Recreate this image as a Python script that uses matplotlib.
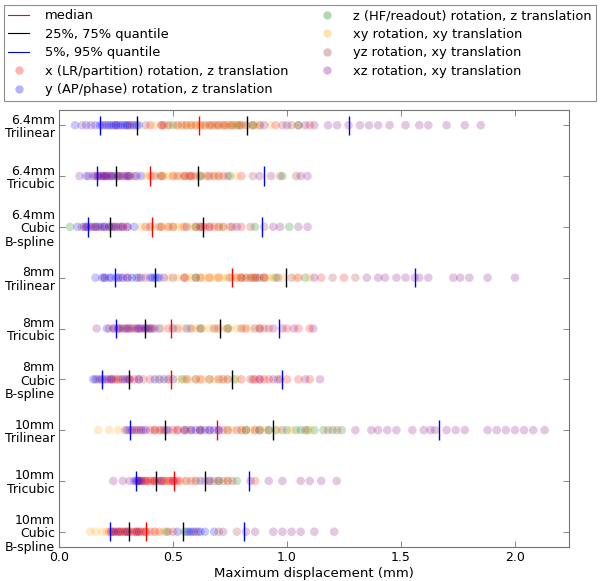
import matplotlib
matplotlib.use("Agg")
import matplotlib.pyplot as plt
from matplotlib.lines import Line2D

rows = ["6.4mm\nTrilinear", "6.4mm\nTricubic", "6.4mm\nCubic\nB-spline",
        "8mm\nTrilinear", "8mm\nTricubic", "8mm\nCubic\nB-spline",
        "10mm\nTrilinear", "10mm\nTricubic", "10mm\nCubic\nB-spline"]

group_labels = ["x (LR/partition) rotation, z translation",
                "y (AP/phase) rotation, z translation",
                "z (HF/readout) rotation, z translation",
                "xy rotation, xy translation",
                "yz rotation, xy translation",
                "xz rotation, xy translation"]
group_colors = ["red", "blue", "green", "orange", "brown", "purple"]

# displacement values (mm) per row, one list per group (x, y, z, xy, yz, xz)
disp_64_trilinear = [
    [0.30, 0.40, 0.45, 0.46, 0.52, 0.56, 0.60, 0.62, 0.66, 0.69, 0.72, 0.75, 0.80,
     0.95, 1.05, 1.10],
    [0.07, 0.12, 0.16, 0.18, 0.19, 0.21, 0.22, 0.23, 0.24, 0.25, 0.26, 0.27, 0.28,
     0.29, 0.30, 0.31, 0.33, 0.34, 0.35],
    [0.50, 0.78, 0.85, 1.05],
    [0.42, 0.48, 0.52, 0.55, 0.56, 0.58, 0.60, 0.62, 0.64, 0.66, 0.68, 0.70, 0.72,
     0.74, 0.76, 0.77, 0.79, 0.80, 0.83, 0.86, 0.88, 0.93],
    [0.38, 0.45, 0.48, 0.54, 0.58, 0.64, 0.67, 0.70, 0.73, 0.76, 0.79, 0.82, 0.85,
     0.88, 0.98, 1.02],
    [0.10, 0.14, 0.20, 0.25, 0.32, 0.90, 1.00, 1.08, 1.12, 1.18, 1.22, 1.27,
     1.32, 1.36, 1.40, 1.45, 1.52, 1.58, 1.62, 1.70, 1.78, 1.85],
]
disp_64_tricubic = [
    [0.16, 0.17, 0.19, 0.20, 0.21, 0.22, 0.23, 0.25, 0.27, 0.29, 0.31, 0.33, 0.40,
     0.45, 0.50, 0.55, 0.57, 0.58, 0.60, 0.65, 0.68, 0.72, 0.80],
    [0.12, 0.15, 0.17, 0.18, 0.20, 0.21, 0.23, 0.24, 0.26, 0.28, 0.30, 0.31, 0.34, 0.36],
    [0.62, 0.75, 0.98],
    [0.38, 0.41, 0.44, 0.46, 0.48, 0.50, 0.53, 0.56, 0.60, 0.63, 0.68, 0.70, 0.78],
    [0.30, 0.42, 0.45, 0.52, 0.55, 0.58, 0.62, 0.66, 0.70, 0.74, 0.85, 0.97, 1.04],
    [0.09, 0.13, 0.19, 0.26, 0.88, 0.93, 1.06, 1.09],
]
disp_64_cubic = [
    [0.13, 0.15, 0.18, 0.20, 0.22, 0.24, 0.26, 0.28, 0.30, 0.38, 0.45, 0.48, 0.55,
     0.60, 0.62, 0.63, 0.64, 0.66, 0.68, 0.75, 0.80],
    [0.08, 0.11, 0.12, 0.14, 0.16, 0.17, 0.19, 0.20, 0.22, 0.23, 0.25, 0.27, 0.30, 0.33],
    [0.048, 0.60, 0.86, 1.01],
    [0.36, 0.40, 0.42, 0.45, 0.48, 0.50, 0.52, 0.54, 0.58, 0.70, 0.72],
    [0.10, 0.16, 0.24, 0.40, 0.44, 0.50, 0.56, 0.62, 0.66, 0.70, 0.72, 0.76, 0.84, 0.90],
    [0.12, 0.28, 0.78, 0.94, 0.97, 1.05, 1.09],
]
disp_8_trilinear = [
    [0.30, 0.38, 0.55, 0.62, 0.66, 0.70, 0.78, 0.80, 0.85, 0.90, 1.05, 1.15, 1.25],
    [0.16, 0.19, 0.20, 0.22, 0.23, 0.25, 0.26, 0.28, 0.30, 0.32, 0.34, 0.36, 0.40,
     0.41, 0.42, 0.43, 0.44],
    [0.60, 0.95, 1.08],
    [0.48, 0.52, 0.56, 0.58, 0.62, 0.64, 0.66, 0.68, 0.70, 0.72, 0.74, 0.76, 0.78,
     0.80, 0.82, 0.84, 0.86, 0.90, 0.92, 0.94, 0.98, 1.04, 1.10],
    [0.35, 0.50, 0.55, 0.60, 0.75, 0.80, 0.82, 0.84, 0.86, 0.87, 0.88, 0.90, 0.96,
     1.02, 1.20, 1.30],
    [0.20, 0.27, 0.46, 1.12, 1.35, 1.40, 1.43, 1.48, 1.52, 1.56, 1.58, 1.62,
     1.73, 1.76, 1.80, 1.88, 2.00],
]
disp_8_tricubic = [
    [0.24, 0.26, 0.28, 0.30, 0.32, 0.33, 0.35, 0.37, 0.38, 0.40, 0.42, 0.48, 0.52,
     0.70, 0.82, 0.88, 0.92, 1.00, 1.05, 1.10],
    [0.21, 0.24, 0.26, 0.29, 0.31, 0.34, 0.36, 0.38, 0.39, 0.41, 0.44, 0.50, 0.56],
    [0.62, 0.74],
    [0.45, 0.50, 0.54, 0.57, 0.60, 0.63, 0.66, 0.69, 0.72, 0.75, 0.78, 0.81, 0.84],
    [0.22, 0.30, 0.40, 0.58, 0.62, 0.68, 0.74, 0.80, 0.86, 0.88, 0.90],
    [0.165, 0.27, 0.35, 0.94, 0.98, 1.03, 1.115],
]
disp_8_cubic = [
    [0.20, 0.22, 0.24, 0.25, 0.27, 0.29, 0.31, 0.33, 0.35, 0.40, 0.62, 0.72, 0.80,
     0.85, 0.86, 0.88, 0.90, 0.92, 1.00, 1.05, 1.10],
    [0.15, 0.16, 0.18, 0.19, 0.21, 0.23, 0.28, 0.30, 0.35, 0.42, 0.44, 0.46, 0.50],
    [0.54, 0.77],
    [0.44, 0.48, 0.52, 0.55, 0.57, 0.60, 0.63, 0.66, 0.68, 0.71, 0.74, 0.78],
    [0.17, 0.26, 0.37, 0.56, 0.60, 0.66, 0.70, 0.74, 0.84, 0.96],
    [0.23, 0.31, 0.48, 0.88, 0.94, 0.97, 1.08, 1.145],
]
disp_10_trilinear = [
    [0.31, 0.33, 0.35, 0.37, 0.40, 0.42, 0.44, 0.46, 0.50, 0.52, 0.55, 0.58, 0.62,
     0.66, 0.72, 0.80],
    [0.30, 0.32, 0.36, 0.38, 0.47, 0.55, 0.58, 0.60, 0.62, 0.64, 0.66, 0.68, 0.70],
    [0.82, 0.88, 0.92, 0.95, 1.00, 1.04, 1.06, 1.09, 1.12, 1.16, 1.20, 1.24],
    [0.172, 0.22, 0.26, 0.74, 0.76, 0.80, 0.84, 0.86, 0.90, 0.96, 1.02, 1.10],
    [0.29, 0.42, 0.45, 0.52, 0.56, 0.62, 0.74, 0.78, 0.82, 0.86, 0.88, 0.92, 0.98,
     1.08, 1.18, 1.22],
    [0.34, 0.48, 0.70, 1.30, 1.37, 1.40, 1.44, 1.48, 1.55, 1.60, 1.63, 1.65,
     1.70, 1.74, 1.78, 1.88, 1.92, 1.96, 2.00, 2.04, 2.08, 2.13],
]
disp_10_tricubic = [
    [0.34, 0.35, 0.36, 0.37, 0.38, 0.39, 0.40, 0.41, 0.42, 0.43, 0.44, 0.45, 0.46,
     0.47, 0.48, 0.49, 0.50, 0.51, 0.52, 0.53, 0.58, 0.86],
    [0.33, 0.34, 0.35, 0.36, 0.45, 0.62, 0.66],
    [0.70, 0.78],
    [0.47, 0.55, 0.60, 0.74],
    [0.38, 0.42, 0.56, 0.60, 0.64, 0.66, 0.68, 0.70, 0.72, 0.74, 0.76],
    [0.238, 0.28, 0.31, 0.35, 0.50, 0.84, 0.92, 0.98, 1.06, 1.10, 1.15, 1.218],
]
disp_10_cubic = [
    [0.22, 0.23, 0.24, 0.25, 0.26, 0.27, 0.28, 0.29, 0.30, 0.31, 0.32, 0.33, 0.34,
     0.35, 0.36, 0.37, 0.38, 0.40, 0.42, 0.44, 0.50],
    [0.24, 0.30, 0.52, 0.56, 0.57, 0.58, 0.59, 0.61, 0.62, 0.64, 0.68],
    [0.47, 0.55],
    [0.136, 0.16, 0.19, 0.21, 0.42, 0.46],
    [0.23, 0.27, 0.29, 0.35, 0.38, 0.48, 0.60, 0.70, 0.78],
    [0.26, 0.34, 0.72, 0.82, 0.86, 0.94, 0.98, 1.02, 1.06, 1.12, 1.207],
]
disp_rows = [disp_64_trilinear, disp_64_tricubic, disp_64_cubic,
             disp_8_trilinear, disp_8_tricubic, disp_8_cubic,
             disp_10_trilinear, disp_10_tricubic, disp_10_cubic]

# quantiles
q05 = [0.180, 0.167, 0.127, 0.244, 0.251, 0.189, 0.310, 0.339, 0.224]
q25 = [0.342, 0.251, 0.224, 0.421, 0.379, 0.307, 0.465, 0.427, 0.307]
q50 = [0.614, 0.399, 0.410, 0.757, 0.493, 0.490, 0.692, 0.503, 0.380]
q75 = [0.823, 0.608, 0.632, 0.994, 0.708, 0.757, 0.940, 0.639, 0.545]
q95 = [1.270, 0.900, 0.892, 1.563, 0.963, 0.978, 1.665, 0.832, 0.811]

fig = plt.figure(figsize=(6.0, 5.81), dpi=100)
ax = fig.add_axes([59/600, 1-547/581, 510/600, 437/581])

alpha = 0.22
for i, groups in enumerate(disp_rows):
    for vals, col in zip(groups, group_colors):
        ax.scatter(vals, [i]*len(vals), s=38, color=col, alpha=alpha,
                   edgecolors="none", zorder=2)

h = 0.19
for i in range(len(rows)):
    ax.vlines([q05[i], q95[i]], i - h, i + h, color="blue", lw=1.0, zorder=3)
    ax.vlines([q25[i], q75[i]], i - h, i + h, color="black", lw=1.0, zorder=3)
    ax.vlines([q50[i]], i - h, i + h, color="red", lw=1.0, zorder=3)

ax.set_xlim(0, 2.237)
ax.set_ylim(len(rows) - 1 + 0.3, -0.3)
ax.set_yticks(range(len(rows)))
ax.set_yticklabels(rows, fontsize=9, linespacing=1.05)
ax.set_xticks([0.0, 0.5, 1.0, 1.5, 2.0])
ax.set_xticklabels(["0.0", "0.5", "1.0", "1.5", "2.0"], fontsize=9)
ax.tick_params(direction="in", top=True, right=True, length=4, width=0.6,
               color="0.45", pad=3)
ax.set_xlabel("Maximum displacement (mm)", fontsize=9.5, labelpad=2)
for sp in ax.spines.values():
    sp.set_color("0.45")
    sp.set_linewidth(0.8)

handles = [Line2D([], [], color="red", lw=0.8),
           Line2D([], [], color="black", lw=0.8),
           Line2D([], [], color="blue", lw=0.8)]
for col in group_colors:
    handles.append(Line2D([], [], ls="none", marker="o", ms=6, color=col,
                          alpha=0.3, markeredgewidth=0))
labels = ["median", "25%, 75% quantile", "5%, 95% quantile"] + group_labels
leg = fig.legend(handles, labels, loc="lower left", ncol=2, mode="expand",
                 bbox_to_anchor=(0.006, 1-101/581, 0.988, 99/581),
                 fontsize=9.4, frameon=True, fancybox=False, handlelength=1.6,
                 handletextpad=1.2, borderaxespad=0, labelspacing=0.42,
                 borderpad=0.35, numpoints=1)
leg.get_frame().set_edgecolor("0.45")
leg.get_frame().set_linewidth(0.8)

fig.savefig("out.png", dpi=100, facecolor="white")
